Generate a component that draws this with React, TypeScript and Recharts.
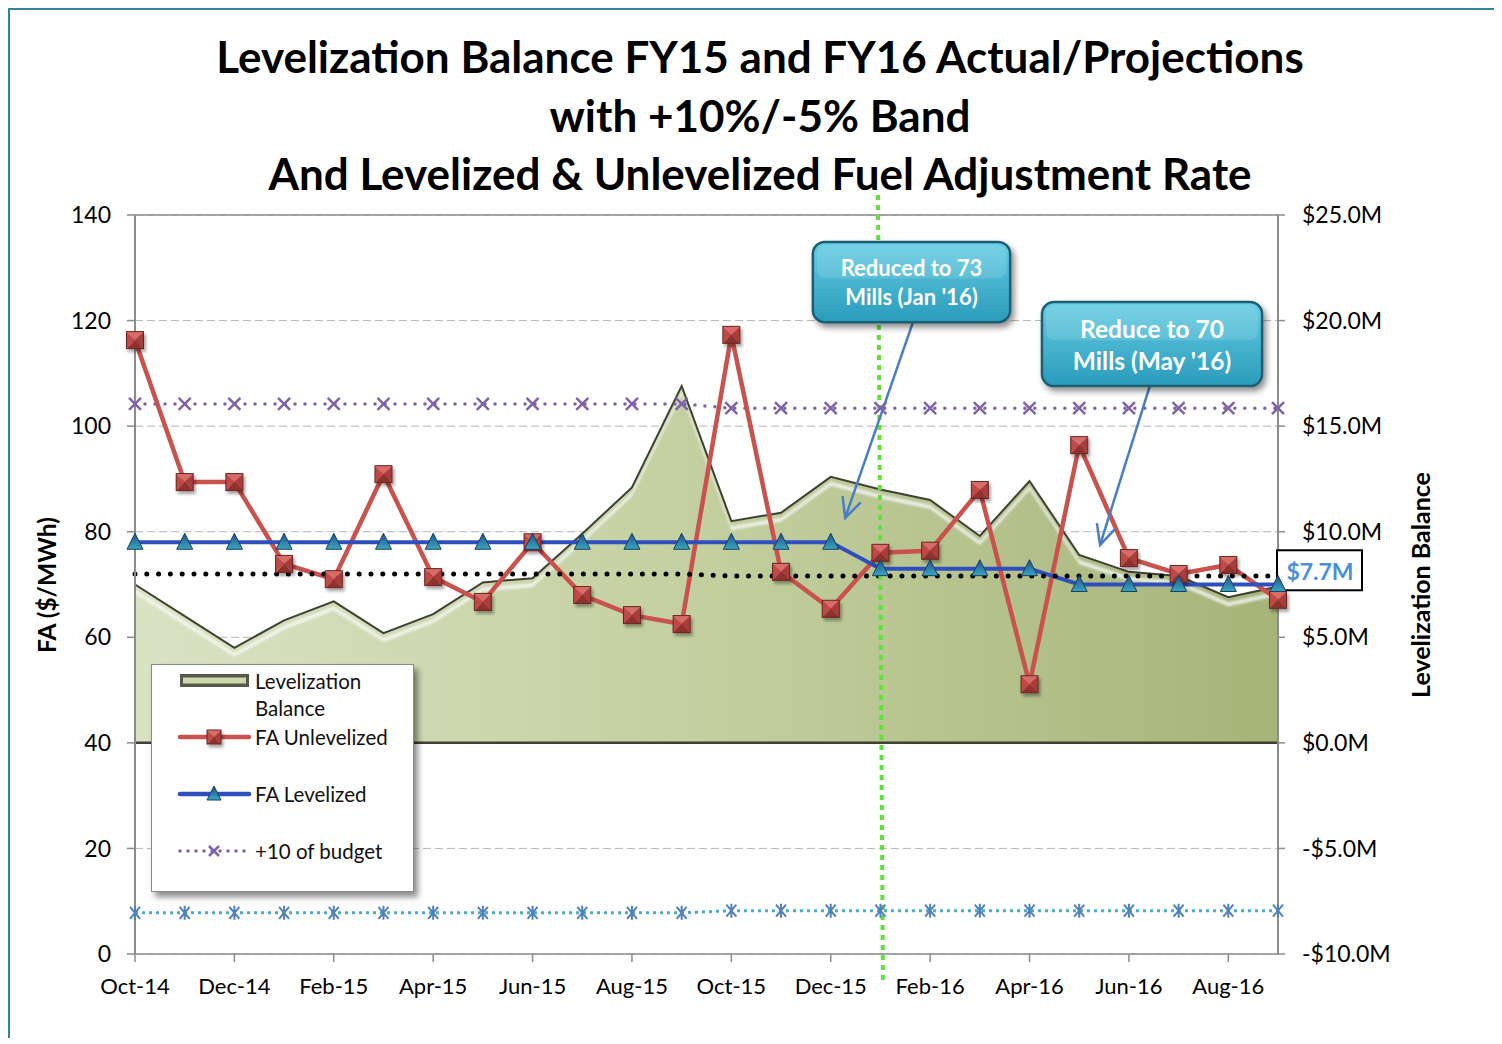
import React from 'react';
import {
  ComposedChart, Area, Line, XAxis, YAxis, CartesianGrid,
  ReferenceLine, ReferenceDot, Legend,
} from 'recharts';

// ---------- data ----------
const months = [
  'Oct-14', 'Nov-14', 'Dec-14', 'Jan-15', 'Feb-15', 'Mar-15', 'Apr-15', 'May-15',
  'Jun-15', 'Jul-15', 'Aug-15', 'Sep-15', 'Oct-15', 'Nov-15', 'Dec-15', 'Jan-16',
  'Feb-16', 'Mar-16', 'Apr-16', 'May-16', 'Jun-16', 'Jul-16', 'Aug-16', 'Sep-16',
];
// Levelization Balance ($M, right axis)
const levelizationBalance = [
  7.5, 6.0, 4.5, 5.8, 6.7, 5.2, 6.1, 7.6, 7.8, 9.9, 12.1, 16.9,
  10.5, 10.9, 12.6, 12.0, 11.5, 9.8, 12.4, 8.9, 8.1, 7.9, 6.9, 7.4,
];
// FA Unlevelized ($/MWh)
const faUnlevelized = [
  116.3, 89.4, 89.4, 73.9, 71.0, 90.9, 71.4, 66.7, 78.0, 68.0, 64.2, 62.5,
  117.3, 72.4, 65.4, 76.0, 76.4, 87.9, 51.1, 96.4, 75.0, 72.0, 73.7, 67.1,
];
// FA Levelized ($/MWh)
const faLevelized = [
  78, 78, 78, 78, 78, 78, 78, 78, 78, 78, 78, 78,
  78, 78, 78, 73, 73, 73, 73, 70, 70, 70, 70, 70,
];
// +10% of budget
const budgetPlus10 = [
  104.2, 104.2, 104.2, 104.2, 104.2, 104.2, 104.2, 104.2, 104.2, 104.2, 104.2, 104.2,
  103.4, 103.4, 103.4, 103.4, 103.4, 103.4, 103.4, 103.4, 103.4, 103.4, 103.4, 103.4,
];
// -5% band
const budgetMinus5 = [
  7.8, 7.8, 7.8, 7.8, 7.8, 7.8, 7.8, 7.8, 7.8, 7.8, 7.8, 7.8,
  8.2, 8.2, 8.2, 8.2, 8.2, 8.2, 8.2, 8.2, 8.2, 8.2, 8.2, 8.2,
];
// budget
const budgetBase = [
  72.0, 72.0, 72.0, 72.0, 72.0, 72.0, 72.0, 72.0, 72.0, 72.0, 72.0, 72.0,
  71.6, 71.6, 71.6, 71.6, 71.6, 71.6, 71.6, 71.6, 71.6, 71.6, 71.6, 71.6,
];
const leftTicks = [0, 20, 40, 60, 80, 100, 120, 140];
const rightTicks = [-10, -5, 0, 5, 10, 15, 20, 25];
const monthTicks = [0, 2, 4, 6, 8, 10, 12, 14, 16, 18, 20, 22];
const titleLines = [
  'Levelization Balance FY15 and FY16 Actual/Projections',
  'with +10%/-5% Band',
  'And Levelized & Unlevelized Fuel Adjustment Rate',
];
const callout1 = ['Reduced to 73', "Mills (Jan '16)"];
const callout2 = ['Reduce to 70', "Mills (May '16)"];
const endLabel = '$7.7M';
const endValue = 7.7;

const data = months.map((m, i) => ({
  i,
  month: m,
  balance: levelizationBalance[i],
  unlev: faUnlevelized[i],
  lev: faLevelized[i],
  plus10: budgetPlus10[i],
  minus5: budgetMinus5[i],
  budget: budgetBase[i],
}));

const FONT = 'Lato, "Open Sans", sans-serif';
const RED = '#c9524e';
const BLUE = '#2f4fbf';
const PURPLE = '#7f62a8';
const TEAL = '#4bacc6';

// ---------- markers ----------
const RedSquare = ({ cx, cy, s = 8.5 }: any) => {
  if (cx == null || cy == null) return null;
  const l = cx - s, r = cx + s, t = cy - s, b = cy + s;
  return (
    <g filter="url(#mkShadow)">
      <polygon points={`${l},${t} ${r},${t} ${cx},${cy}`} fill="#d86c67" />
      <polygon points={`${r},${t} ${r},${b} ${cx},${cy}`} fill="#a93d3a" />
      <polygon points={`${l},${b} ${r},${b} ${cx},${cy}`} fill="#8f302d" />
      <polygon points={`${l},${t} ${l},${b} ${cx},${cy}`} fill="#bf4a46" />
      <rect x={l} y={t} width={2 * s} height={2 * s} fill="none" stroke="#6b2422" strokeWidth={1} />
    </g>
  );
};
const BlueTriangle = ({ cx, cy, s = 8 }: any) => {
  if (cx == null || cy == null) return null;
  return (
    <g>
      <polygon
        points={`${cx},${cy - s - 1} ${cx + s},${cy + s - 1} ${cx - s},${cy + s - 1}`}
        fill="url(#triGrad)" stroke="#17405e" strokeWidth={1}
      />
    </g>
  );
};
const PurpleX = ({ cx, cy, s = 6 }: any) => {
  if (cx == null || cy == null) return null;
  return (
    <path d={`M${cx - s},${cy - s}L${cx + s},${cy + s}M${cx - s},${cy + s}L${cx + s},${cy - s}`}
      stroke={PURPLE} strokeWidth={2.5} fill="none" />
  );
};
const BlueStar = ({ cx, cy, s = 5 }: any) => {
  if (cx == null || cy == null) return null;
  return (
    <path d={`M${cx - s},${cy - s - 1}L${cx + s},${cy + s + 1}M${cx - s},${cy + s + 1}L${cx + s},${cy - s - 1}M${cx},${cy - s - 2}L${cx},${cy + s + 2}`}
      stroke="#4f81bd" strokeWidth={2} fill="none" />
  );
};

const dotRenderer = (Comp: any) => (p: any) => <Comp key={`dot-${p.dataKey}-${p.index}`} cx={p.cx} cy={p.cy} />;

// ---------- annotations ----------
const CalloutShape = (lines: string[], fontSize: number, lineGap: number) => (p: any) => {
  const { x1, y1, x2, y2 } = p;
  if (x1 == null) return null;
  const x = Math.min(x1, x2), y = Math.min(y1, y2);
  const w = Math.abs(x2 - x1), h = Math.abs(y2 - y1);
  const cx = x + w / 2;
  const cy = y + h / 2;
  return (
    <g>
      <rect x={x} y={y} width={w} height={h} rx={12} ry={12} fill="url(#calloutGrad)"
        stroke="#1d5e72" strokeWidth={2.5} filter="url(#boxShadow)" />
      <rect x={x + 4} y={y + 3} width={w - 8} height={h * 0.42} rx={9} ry={9} fill="#ffffff" opacity={0.12} />
      {lines.map((t, k) => (
        <text key={k} x={cx} y={cy + (k - 0.5) * lineGap} textAnchor="middle" dominantBaseline="central"
          fill="#ffffff" fontFamily={FONT} fontWeight={700} fontSize={fontSize}>{t}</text>
      ))}
    </g>
  );
};

const ArrowShape = (p: any) => {
  const { x1, y1, x2, y2 } = p;
  if (x1 == null) return null;
  const ang = Math.atan2(y2 - y1, x2 - x1);
  const len = 22;
  const spread = 0.45;
  const ax = x2 - len * Math.cos(ang - spread);
  const ay = y2 - len * Math.sin(ang - spread);
  const bx = x2 - len * Math.cos(ang + spread);
  const by = y2 - len * Math.sin(ang + spread);
  return (
    <g>
      <line x1={x1} y1={y1} x2={x2} y2={y2} stroke="#4a7ec2" strokeWidth={2.5} />
      <polyline points={`${ax},${ay} ${x2},${y2} ${bx},${by}`} fill="none" stroke="#4a7ec2" strokeWidth={2.5} />
    </g>
  );
};

const EndLabelShape = (p: any) => {
  const { cx, cy } = p;
  if (cx == null) return null;
  return (
    <g>
      <rect x={cx - 1} y={cy - 30} width={85} height={40} fill="#ffffff" stroke="#000" strokeWidth={2} />
      <text x={cx + 42} y={cy - 9} textAnchor="middle" dominantBaseline="central" fill="#4a8fda"
        fontFamily={FONT} fontWeight={700} fontSize={23}>{endLabel}</text>
    </g>
  );
};

// ---------- legend ----------
const LEG_FS = 20.5;
const LegendBox = () => (
  <div style={{
    width: 263, height: 228, background: '#fff', border: '1.5px solid #8a8a8a',
    boxSizing: 'border-box', boxShadow: '4px 5px 6px rgba(0,0,0,0.45)',
  }}>
    <svg width={260} height={225} style={{ display: 'block' }}>
      <rect x={28} y={9} width={69} height={13} fill="#55584a" />
      <rect x={31} y={12.5} width={63} height={6} fill="#cdd8ad" />
      <text x={103} y={16} dominantBaseline="central" fontFamily={FONT} fontSize={LEG_FS} fill="#111">Levelization</text>
      <text x={103} y={43} dominantBaseline="central" fontFamily={FONT} fontSize={LEG_FS} fill="#111">Balance</text>

      <line x1={28} y1={72} x2={97} y2={72} stroke={RED} strokeWidth={4.5} strokeLinecap="round" />
      <RedSquare cx={62} cy={72} s={7} />
      <text x={103} y={72} dominantBaseline="central" fontFamily={FONT} fontSize={LEG_FS} fill="#111">FA Unlevelized</text>

      <line x1={28} y1={129} x2={97} y2={129} stroke={BLUE} strokeWidth={4.5} strokeLinecap="round" />
      <BlueTriangle cx={62} cy={129} s={7} />
      <text x={103} y={129} dominantBaseline="central" fontFamily={FONT} fontSize={LEG_FS} fill="#111">FA Levelized</text>

      <line x1={28} y1={186} x2={97} y2={186} stroke={PURPLE} strokeWidth={3.5} strokeLinecap="round" strokeDasharray="0 8" />
      <PurpleX cx={62} cy={186} s={5} />
      <text x={103} y={186} dominantBaseline="central" fontFamily={FONT} fontSize={LEG_FS} fill="#111">+10 of budget</text>
    </svg>
  </div>
);

const fmtRight = (v: number) => (v < 0 ? `-$${Math.abs(v).toFixed(1)}M` : `$${v.toFixed(1)}M`);

export default function App() {
  const W = 1494;
  const H = 1030;
  return (
    <div style={{ position: 'relative', width: W, height: H, fontFamily: FONT, overflow: 'hidden' }}>
      <style>{`.recharts-area-area { filter: url(#areaBevel); }`}</style>
      <div style={{
        position: 'absolute', left: 0, top: 0, width: W, height: H,
        borderLeft: '2px solid #31849b', borderTop: '2px solid #31849b', boxSizing: 'border-box',
      }} />
      <div style={{
        position: 'absolute', left: 0, top: 19, width: 1504, textAlign: 'center',
        fontFamily: FONT, fontWeight: 700, fontSize: 44, lineHeight: '58.5px', color: '#000',
      }}>
        {titleLines.map((t, k) => <div key={k}>{t}</div>)}
      </div>
      <div style={{
        position: 'absolute', left: 38, top: 577, transform: 'translate(-50%,-50%) rotate(-90deg)',
        whiteSpace: 'nowrap', fontWeight: 700, fontSize: 24.5, fontFamily: FONT, color: '#000',
      }}>FA ($/MWh)</div>
      <div style={{
        position: 'absolute', left: 1412, top: 577, transform: 'translate(-50%,-50%) rotate(-90deg)',
        whiteSpace: 'nowrap', fontWeight: 700, fontSize: 25, fontFamily: FONT, color: '#000',
      }}>Levelization Balance</div>

      <div style={{ position: 'absolute', left: 0, top: 0 }}>
        <ComposedChart width={W} height={H} data={data}
          margin={{ top: 207, right: 104, bottom: 44, left: 67 }}>
          <defs>
            <linearGradient id="areaGrad" x1="0" y1="0" x2="1" y2="0">
              <stop offset="0%" stopColor="#d9e3c4" />
              <stop offset="50%" stopColor="#c3cf9f" />
              <stop offset="100%" stopColor="#a6b478" />
            </linearGradient>
            <linearGradient id="calloutGrad" x1="0" y1="0" x2="0" y2="1">
              <stop offset="0%" stopColor="#66cde4" />
              <stop offset="100%" stopColor="#2a9bbb" />
            </linearGradient>
            <linearGradient id="triGrad" x1="0" y1="0" x2="0" y2="1">
              <stop offset="0%" stopColor="#1f4f8f" />
              <stop offset="100%" stopColor="#3aa6be" />
            </linearGradient>
            <filter id="boxShadow" x="-20%" y="-20%" width="140%" height="150%">
              <feDropShadow dx="3" dy="4" stdDeviation="3" floodColor="#000" floodOpacity="0.45" />
            </filter>
            <filter id="mkShadow" x="-50%" y="-50%" width="200%" height="200%">
              <feDropShadow dx="2" dy="3" stdDeviation="1.5" floodColor="#000" floodOpacity="0.35" />
            </filter>
            <filter id="areaBevel" x="-2%" y="-5%" width="104%" height="110%">
              <feOffset in="SourceAlpha" dy="5" result="a" />
              <feOffset in="SourceAlpha" dy="9" result="b" />
              <feComposite in="a" in2="b" operator="out" result="band" />
              <feComposite in="band" in2="SourceAlpha" operator="in" result="band2" />
              <feGaussianBlur in="band2" stdDeviation="1" result="bandBlur" />
              <feFlood floodColor="#ffffff" floodOpacity="0.65" />
              <feComposite in2="bandBlur" operator="in" result="hl" />
              <feMerge>
                <feMergeNode in="SourceGraphic" />
                <feMergeNode in="hl" />
              </feMerge>
            </filter>
          </defs>
          <CartesianGrid yAxisId="left" vertical={false} stroke="#b5b5b5" strokeDasharray="8 4" />
          <XAxis dataKey="i" type="number" domain={[0, 23]} ticks={monthTicks}
            tickFormatter={(v: number) => months[v]} height={40}
            tick={{ fill: '#000', fontSize: 22, fontFamily: FONT }}
            tickSize={8} tickMargin={16}
            axisLine={{ stroke: '#8c8c8c', strokeWidth: 1.5 }}
            tickLine={{ stroke: '#8c8c8c', strokeWidth: 1.5 }} />
          <YAxis yAxisId="left" orientation="left" domain={[0, 140]} ticks={leftTicks} width={60}
            tick={{ fill: '#000', fontSize: 23, fontFamily: FONT }}
            tickSize={8} tickMargin={16}
            axisLine={{ stroke: '#8c8c8c', strokeWidth: 2 }}
            tickLine={{ stroke: '#8c8c8c', strokeWidth: 1.5 }} />
          <YAxis yAxisId="right" orientation="right" domain={[-10, 25]} ticks={rightTicks} width={120}
            tickFormatter={fmtRight}
            tick={{ fill: '#000', fontSize: 23, fontFamily: FONT, textAnchor: 'start' }}
            tickSize={7} tickMargin={17}
            axisLine={{ stroke: '#8c8c8c', strokeWidth: 2 }}
            tickLine={{ stroke: '#8c8c8c', strokeWidth: 1.5 }} />

          <ReferenceLine yAxisId="left" y={140} stroke="#8c8c8c" strokeWidth={1.5} />

          <Area yAxisId="right" dataKey="balance" type="linear" baseValue={0}
            fill="url(#areaGrad)" fillOpacity={1} stroke="#3f4032" strokeWidth={2}
            isAnimationActive={false} name="Levelization Balance" />
          <ReferenceLine yAxisId="right" y={0} stroke="#3f4032" strokeWidth={2.5} />

          <Line yAxisId="left" dataKey="plus10" type="linear" stroke={PURPLE} strokeWidth={3.5}
            strokeLinecap="round" strokeDasharray="0 10" dot={dotRenderer(PurpleX)}
            isAnimationActive={false} name="+10 of budget" />
          <Line yAxisId="left" dataKey="minus5" type="linear" stroke={TEAL} strokeWidth={3}
            strokeDasharray="3 4" dot={dotRenderer(BlueStar)}
            isAnimationActive={false} name="-5 of budget" legendType="none" />
          <Line yAxisId="left" dataKey="unlev" type="linear" stroke={RED} strokeWidth={4.5}
            dot={dotRenderer(RedSquare)} isAnimationActive={false} name="FA Unlevelized" />
          <Line yAxisId="left" dataKey="lev" type="linear" stroke={BLUE} strokeWidth={4}
            dot={dotRenderer(BlueTriangle)} isAnimationActive={false} name="FA Levelized" />
          <Line yAxisId="left" dataKey="budget" type="linear" stroke="#000" strokeWidth={5}
            strokeLinecap="round" strokeDasharray="0 11.8" dot={false}
            isAnimationActive={false} name="Budget" legendType="none" />

          <ReferenceLine yAxisId="left" ifOverflow="visible"
            segment={[{ x: 14.95, y: 143.8 }, { x: 15.05, y: -4.9 }]}
            stroke="#5fe03a" strokeWidth={4} strokeDasharray="5 5" />

          <ReferenceLine yAxisId="left" ifOverflow="visible"
            segment={[{ x: 15.655, y: 119.7 }, { x: 14.29, y: 82.6 }]}
            shape={ArrowShape} />
          <ReferenceLine yAxisId="left" ifOverflow="visible"
            segment={[{ x: 20.42, y: 107.6 }, { x: 19.42, y: 77.5 }]}
            shape={ArrowShape} />
          <ReferenceLine yAxisId="left" ifOverflow="visible"
            segment={[{ x: 13.64, y: 134.9 }, { x: 17.61, y: 119.7 }]}
            shape={CalloutShape(callout1, 22, 29)} />
          <ReferenceLine yAxisId="left" ifOverflow="visible"
            segment={[{ x: 18.25, y: 123.5 }, { x: 22.68, y: 107.6 }]}
            shape={CalloutShape(callout2, 24.5, 32)} />
          <ReferenceDot yAxisId="right" x={23} y={endValue} r={0} ifOverflow="visible"
            shape={EndLabelShape} />

          <Legend layout="vertical" align="center" verticalAlign="middle"
            wrapperStyle={{ left: 143, top: 656, width: 263, height: 228 }}
            content={() => <LegendBox />} />
        </ComposedChart>
      </div>
    </div>
  );
}
